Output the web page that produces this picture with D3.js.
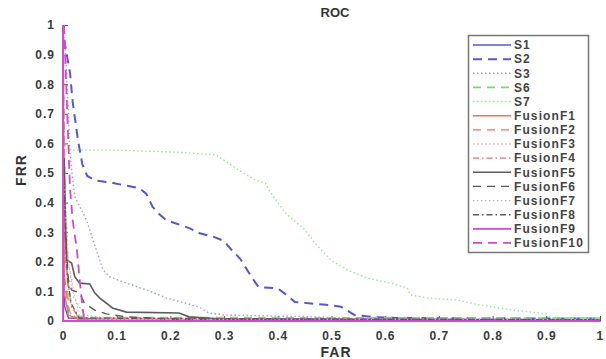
<!DOCTYPE html>
<html><head><meta charset="utf-8">
<script src="https://cdn.jsdelivr.net/npm/d3@7"></script>
<style>body{margin:0;background:#fff}svg{display:block}</style>
</head><body><div id="chart"></div>
<script>
const xTicks = [0,0.1,0.2,0.3,0.4,0.5,0.6,0.7,0.8,0.9,1];
const yTicks = [0,0.1,0.2,0.3,0.4,0.5,0.6,0.7,0.8,0.9,1];
const xTickLabels = ["0","0.1","0.2","0.3","0.4","0.5","0.6","0.7","0.8","0.9","1"];
const yTickLabels = ["0","0.1","0.2","0.3","0.4","0.5","0.6","0.7","0.8","0.9","1"];
const seriesNames = ["S1","S2","S3","S6","S7","FusionF1","FusionF2","FusionF3","FusionF4","FusionF5","FusionF6","FusionF7","FusionF8","FusionF9","FusionF10"];

// [FAR, FRR] pairs
const S1 = [[0,1],[0.001,0.3],[0.003,0.05],[0.01,0.01],[0.1,0.004],[1,0.002]];
const S2 = [[0.002,0.95],[0.007,0.9],[0.013,0.84],[0.018,0.74],[0.028,0.61],[0.036,0.53],[0.045,0.49],[0.06,0.475],[0.093,0.466],[0.142,0.449],[0.155,0.43],[0.167,0.385],[0.18,0.36],[0.192,0.341],[0.235,0.314],[0.253,0.297],[0.28,0.285],[0.3,0.27],[0.314,0.24],[0.33,0.21],[0.351,0.149],[0.364,0.115],[0.4,0.11],[0.415,0.09],[0.432,0.064],[0.457,0.06],[0.49,0.055],[0.518,0.048],[0.53,0.035],[0.543,0.02],[0.573,0.014],[0.62,0.01],[1,0.008]];
const S3 = [[0,1],[0.005,0.9],[0.01,0.7],[0.012,0.6],[0.016,0.51],[0.022,0.42],[0.044,0.34],[0.062,0.24],[0.075,0.172],[0.087,0.149],[0.118,0.128],[0.155,0.105],[0.192,0.078],[0.229,0.06],[0.253,0.047],[0.272,0.027],[0.3,0.02],[0.45,0.015],[0.55,0.008],[1,0.005]];
const S6 = [[0,0.9],[0.005,0.3],[0.008,0.15],[0.01,0.05],[0.015,0.02],[0.05,0.012],[1,0.01]];
const S7 = [[0,1],[0.003,0.6],[0.006,0.578],[0.1,0.577],[0.216,0.57],[0.285,0.561],[0.327,0.51],[0.358,0.476],[0.377,0.466],[0.383,0.443],[0.414,0.365],[0.451,0.307],[0.469,0.263],[0.499,0.206],[0.53,0.172],[0.567,0.145],[0.61,0.128],[0.641,0.111],[0.647,0.088],[0.678,0.078],[0.733,0.071],[0.776,0.054],[0.839,0.037],[0.9,0.024],[0.909,0.01],[1,0.01]];
const F1 = [[0,1],[0.002,0.1],[0.01,0.02],[0.03,0.005],[1,0.001]];
const F2 = [[0,1],[0.003,0.15],[0.01,0.03],[0.03,0.004],[1,0.002]];
const F3 = [[0,0.6],[0.01,0.2],[0.02,0.1],[0.03,0.02],[0.05,0.005],[1,0.003]];
const F4 = [[0,0.9],[0.005,0.2],[0.015,0.05],[0.03,0.01],[1,0.002]];
const F5 = [[0.002,0.55],[0.005,0.3],[0.007,0.206],[0.016,0.196],[0.022,0.149],[0.031,0.128],[0.05,0.125],[0.059,0.095],[0.068,0.078],[0.081,0.06],[0.092,0.044],[0.118,0.03],[0.216,0.027],[0.235,0.014],[0.3,0.006],[1,0.004]];
const F6 = [[0.004,0.3],[0.01,0.139],[0.016,0.105],[0.031,0.095],[0.04,0.06],[0.059,0.037],[0.081,0.024],[0.118,0.014],[0.2,0.006],[1,0.003]];
const F7 = [[0,0.5],[0.01,0.2],[0.02,0.08],[0.04,0.02],[0.1,0.006],[1,0.005]];
const F8 = [[0.003,0.42],[0.005,0.3],[0.008,0.15],[0.015,0.06],[0.03,0.01],[1,0.003]];
const F9 = [[0,1],[0,0],[1,0]];
const F10 = [[0.002,1],[0.006,0.8],[0.01,0.6],[0.013,0.45],[0.018,0.34],[0.026,0.24],[0.031,0.139],[0.037,0.037],[0.04,0],[1,0]];

const seriesData = [S1,S2,S3,S6,S7,F1,F2,F3,F4,F5,F6,F7,F8,F9,F10];
const blue="#5656d2", green="#6ee06e", red="#ff6a6a", gray="#5c5c5c", mag="#d04ad0";
const styles = [
  {c:blue,d:null,w:1.4},{c:blue,d:"9,6",w:2},{c:"#9d9df0",d:"1.5,2.5",w:1.4},
  {c:green,d:"8,6",w:1.6},{c:"#9aea9a",d:"1.5,2.5",w:1.4},
  {c:red,d:null,w:1.4},{c:red,d:"8,6",w:1.4},{c:"#ffaaaa",d:"1.5,2.5",w:1.4},{c:red,d:"6,3,1.5,3",w:1.4},
  {c:gray,d:null,w:1.6},{c:gray,d:"8,6",w:1.4},{c:"#b8b8b8",d:"1.5,2.5",w:1.2},{c:gray,d:"6,3,1.5,3",w:1.4},
  {c:mag,d:null,w:1.8},{c:mag,d:"9,6",w:1.8}
];

const W=606,H=359;
const svg=d3.select("#chart").append("svg").attr("width",W).attr("height",H);
const x=d3.scaleLinear().domain([0,1]).range([63,600]);
const y=d3.scaleLinear().domain([0,1]).range([321,25]);
const font="Liberation Sans, Arial, sans-serif";

// axes
const xAxis=d3.axisBottom(x).tickValues(xTicks).tickFormat((d,i)=>xTickLabels[i]).tickSizeInner(-5).tickSizeOuter(0).tickPadding(8);
const yAxis=d3.axisLeft(y).tickValues(yTicks).tickFormat((d,i)=>yTickLabels[i]).tickSizeInner(-5).tickSizeOuter(0).tickPadding(8);
const gx=svg.append("g").attr("transform","translate(0,321)").call(xAxis);
const gy=svg.append("g").attr("transform","translate(63,0)").call(yAxis);
[gx,gy].forEach(g=>{
  g.select(".domain").attr("stroke","#555").attr("stroke-width",1.2);
  g.selectAll(".tick line").attr("stroke","#555");
  g.selectAll("text").attr("font-family",font).attr("font-weight","bold").attr("font-size",12).attr("fill","#3a3a3a").attr("letter-spacing","1px");
});
gx.selectAll("text").attr("dy","0.9em");
gx.selectAll(".tick:last-of-type text").attr("text-anchor","end").attr("dx","0.3em");

// lines
const line=d3.line().x(d=>x(d[0])).y(d=>y(d[1]));
seriesData.forEach((data,i)=>{
  const s=styles[i];
  svg.append("path").datum(data).attr("d",line).attr("fill","none")
    .attr("stroke",s.c).attr("stroke-width",s.w).attr("stroke-dasharray",s.d);
});

// titles
svg.append("text").attr("x",335).attr("y",17).attr("text-anchor","middle").attr("font-family",font)
  .attr("font-weight","bold").attr("font-size",13).attr("fill","#333").text("ROC");
svg.append("text").attr("x",336).attr("y",357).attr("text-anchor","middle").attr("font-family",font)
  .attr("font-weight","bold").attr("font-size",14).attr("fill","#333").attr("letter-spacing","1px").text("FAR");
svg.append("text").attr("transform","translate(26,170) rotate(-90)").attr("text-anchor","middle").attr("font-family",font)
  .attr("font-weight","bold").attr("font-size",14).attr("fill","#333").attr("letter-spacing","1px").text("FRR");

// legend
const lg=svg.append("g");
lg.append("rect").attr("x",468.5).attr("y",35.5).attr("width",120).attr("height",217)
  .attr("fill","#fff").attr("stroke","#777").attr("stroke-width",1.5);
seriesNames.forEach((n,i)=>{
  const yy=45+i*14.14, s=styles[i];
  lg.append("line").attr("x1",473).attr("x2",511).attr("y1",yy).attr("y2",yy)
    .attr("stroke",s.c).attr("stroke-width",s.w).attr("stroke-dasharray",s.d);
  lg.append("text").attr("x",514).attr("y",yy).attr("dy","0.36em").attr("font-family",font)
    .attr("font-weight","bold").attr("font-size",12).attr("fill","#444").attr("letter-spacing","1.1px").text(n);
});
</script></body></html>
